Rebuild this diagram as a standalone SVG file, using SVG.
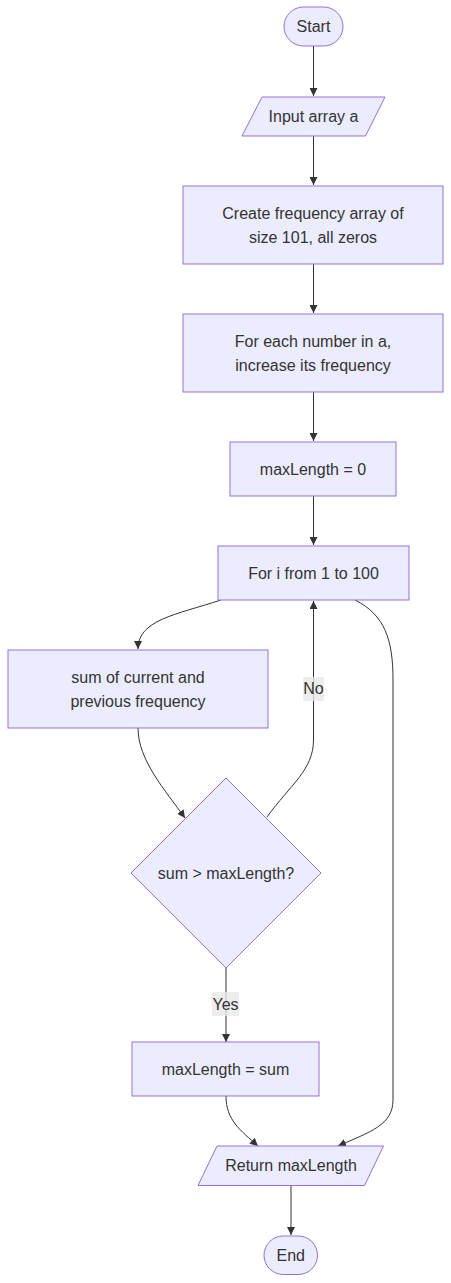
<svg xmlns="http://www.w3.org/2000/svg" width="451" height="1283" viewBox="0 0 451 1283">
<style>
.n{fill:#ECECFF;stroke:#9370DB;stroke-width:1px}
.t{font-family:"Liberation Sans",Arial,sans-serif;font-size:16px;fill:#333;text-anchor:middle}
.e{fill:none;stroke:#333;stroke-width:1px}
.lb{fill:#e8e8e8;opacity:0.8}
</style>
<defs>
<marker id="ah" viewBox="0 0 10 10" refX="10" refY="5" markerWidth="8" markerHeight="8" markerUnits="userSpaceOnUse" orient="auto">
<path d="M0,0 L10,5 L0,10 z" fill="#333"/>
</marker>
</defs>
<rect width="451" height="1283" fill="#ffffff"/>
<g id="edges">
<path class="e" d="M313.5,46 L313.5,96" marker-end="url(#ah)"/>
<path class="e" d="M313.5,136 L313.5,185" marker-end="url(#ah)"/>
<path class="e" d="M313.5,264 L313.5,313" marker-end="url(#ah)"/>
<path class="e" d="M313.5,392 L313.5,441" marker-end="url(#ah)"/>
<path class="e" d="M313.5,496 L313.5,545" marker-end="url(#ah)"/>
<path class="e" d="M221,600 C175,615 138,620 138,649" marker-end="url(#ah)"/>
<path class="e" d="M138,728 C138,760 165,790 185,818" marker-end="url(#ah)"/>
<path class="e" d="M267,817 C290,785 313.5,770 313.5,740 L313.5,601" marker-end="url(#ah)"/>
<path class="e" d="M355,600 C385,615 393,640 393,680 L393,1100 C393,1125 370,1132 338,1146" marker-end="url(#ah)"/>
<path class="e" d="M226,968 L226,1042" marker-end="url(#ah)"/>
<path class="e" d="M226,1096 C226,1120 240,1130 258,1146" marker-end="url(#ah)"/>
<path class="e" d="M291,1186 L291,1235" marker-end="url(#ah)"/>
<rect class="lb" x="303" y="677" width="21" height="24"/>
<text class="t" x="313.5" y="694">No</text>
<rect class="lb" x="212" y="992" width="27" height="24"/>
<text class="t" x="225.5" y="1009.5">Yes</text>
</g>
<g id="start">
<rect class="n" x="284" y="7" width="59" height="39" rx="19.5" ry="19.5"/>
<text class="t" x="313.5" y="32">Start</text>
</g>
<g id="input">
<polygon class="n" points="262,97 385,97 365.5,136 242,136"/>
<text class="t" x="313.5" y="122">Input array a</text>
</g>
<g id="create">
<rect class="n" x="183" y="186" width="260" height="78"/>
<text class="t" x="313" y="218.5">Create frequency array of</text>
<text class="t" x="313" y="242.5">size 101, all zeros</text>
</g>
<g id="foreach">
<rect class="n" x="183" y="314" width="260" height="78"/>
<text class="t" x="313" y="346.5">For each number in a,</text>
<text class="t" x="313" y="370.5">increase its frequency</text>
</g>
<g id="init">
<rect class="n" x="230" y="442" width="166" height="54"/>
<text class="t" x="313" y="474.5">maxLength = 0</text>
</g>
<g id="loop">
<rect class="n" x="218" y="546" width="191" height="54"/>
<text class="t" x="313.5" y="578.5">For i from 1 to 100</text>
</g>
<g id="sum">
<rect class="n" x="8" y="650" width="260" height="78"/>
<text class="t" x="138" y="682.5">sum of current and</text>
<text class="t" x="138" y="706.5">previous frequency</text>
</g>
<g id="cond">
<polygon class="n" points="226,778 321,873 226,968 131,873"/>
<text class="t" x="226" y="878.5">sum &gt; maxLength?</text>
</g>
<g id="update">
<rect class="n" x="132" y="1042" width="187" height="54"/>
<text class="t" x="225.5" y="1074.5">maxLength = sum</text>
</g>
<g id="return">
<polygon class="n" points="217,1146 383.5,1146 364.5,1185.5 198,1185.5"/>
<text class="t" x="291" y="1171">Return maxLength</text>
</g>
<g id="end">
<rect class="n" x="264" y="1236" width="53.5" height="38.5" rx="19.25" ry="19.25"/>
<text class="t" x="290.7" y="1260.5">End</text>
</g>
</svg>
